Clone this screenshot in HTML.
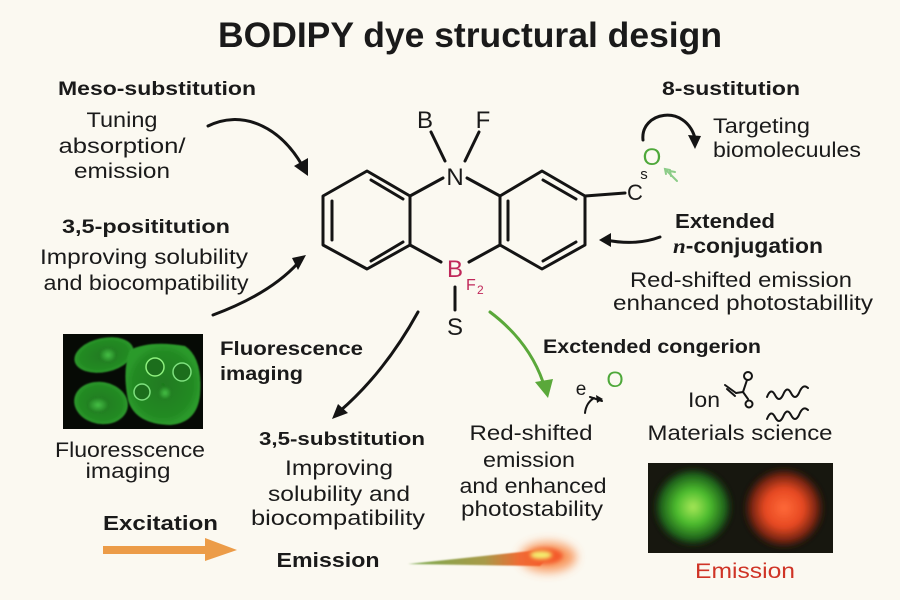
<!DOCTYPE html>
<html><head><meta charset="utf-8"><style>
html,body{margin:0;padding:0;background:#fbf9f1;}
svg{display:block;}
text{font-family:"Liberation Sans",sans-serif;fill:#1a1a1a;}
.b{font-weight:bold;}
</style></head><body>
<svg width="900" height="600" viewBox="0 0 900 600" xmlns="http://www.w3.org/2000/svg">
<defs>
<filter id="bl1" x="-50%" y="-50%" width="200%" height="200%"><feGaussianBlur stdDeviation="5"/></filter>
<filter id="bl2" x="-50%" y="-50%" width="200%" height="200%"><feGaussianBlur stdDeviation="2"/></filter>
<filter id="bl3" x="-50%" y="-50%" width="200%" height="200%"><feGaussianBlur stdDeviation="0.8"/></filter>
<radialGradient id="gg" cx="0.5" cy="0.5" r="0.5"><stop offset="0" stop-color="#a8e858"/><stop offset="0.4" stop-color="#4cbc2e"/><stop offset="0.78" stop-color="#1d5e1a"/><stop offset="1" stop-color="#17170f" stop-opacity="0"/></radialGradient>
<radialGradient id="rg" cx="0.5" cy="0.5" r="0.5"><stop offset="0" stop-color="#ff6a38"/><stop offset="0.45" stop-color="#e64822"/><stop offset="0.78" stop-color="#6e2210"/><stop offset="1" stop-color="#17170f" stop-opacity="0"/></radialGradient>
<linearGradient id="cm" x1="0" y1="0" x2="1" y2="0"><stop offset="0" stop-color="#7aaa50"/><stop offset="0.55" stop-color="#a89a48"/><stop offset="0.8" stop-color="#f06a34"/><stop offset="1" stop-color="#f46030"/></linearGradient>
<radialGradient id="cell" cx="0.5" cy="0.5" r="0.5"><stop offset="0" stop-color="#1f7a1f"/><stop offset="0.8" stop-color="#238a23"/><stop offset="1" stop-color="#2c9a2c"/></radialGradient>
<radialGradient id="nuc" cx="0.5" cy="0.5" r="0.5"><stop offset="0" stop-color="#45c045"/><stop offset="1" stop-color="#1f7a1f"/></radialGradient>
</defs>

<!-- Title -->
<text x="470" y="47" text-anchor="middle" class="b" font-size="35" textLength="504" lengthAdjust="spacingAndGlyphs">BODIPY dye structural design</text>

<!-- Left column -->
<text x="157" y="95" text-anchor="middle" class="b" font-size="19" textLength="198" lengthAdjust="spacingAndGlyphs">Meso-substitution</text>
<text x="122" y="127" text-anchor="middle" font-size="21" textLength="71" lengthAdjust="spacingAndGlyphs">Tuning</text>
<text x="122" y="153" text-anchor="middle" font-size="21" textLength="127" lengthAdjust="spacingAndGlyphs">absorption/</text>
<text x="122" y="178" text-anchor="middle" font-size="21" textLength="96" lengthAdjust="spacingAndGlyphs">emission</text>
<text x="146" y="233" text-anchor="middle" class="b" font-size="19" textLength="168" lengthAdjust="spacingAndGlyphs">3,5-posititution</text>
<text x="144" y="264" text-anchor="middle" font-size="21" textLength="208" lengthAdjust="spacingAndGlyphs">Improving solubility</text>
<text x="146" y="290" text-anchor="middle" font-size="21" textLength="205" lengthAdjust="spacingAndGlyphs">and biocompatibility</text>

<!-- arrows -->
<g fill="none" stroke="#141414" stroke-width="3" stroke-linecap="round">
<path d="M208,126 C240,110 278,124 302,165"/>
<path d="M213,315 C248,302 278,285 298,263"/>
<path d="M643,140 C640,112 685,103 695,138"/>
<path d="M660,237 Q636,246 606,240"/>
<path d="M418,312 Q385,372 340,411"/>
</g>
<g fill="#141414">
<polygon points="308,176 294,166 308,158"/>
<polygon points="306,255 298,270 292,258"/>
<polygon points="695,149 688,135 701,136"/>
<polygon points="599,240 611,233 611,247"/>
<polygon points="332,419 338,404 348,413"/>
</g>

<!-- Molecule -->
<g fill="none" stroke="#141414" stroke-width="3" stroke-linejoin="round" stroke-linecap="round">
<polygon points="367,171 410,196 410,245 367,269 323,245 323,196"/>
<line x1="332" y1="201" x2="332" y2="240"/>
<line x1="371" y1="180" x2="403" y2="199"/>
<line x1="371" y1="261" x2="403" y2="242"/>
<polygon points="542,171 585,196 585,245 542,269 500,245 500,196"/>
<line x1="508" y1="201" x2="508" y2="240"/>
<line x1="543" y1="180" x2="576" y2="199"/>
<line x1="543" y1="261" x2="576" y2="242"/>
<line x1="410" y1="196" x2="443" y2="178"/>
<line x1="467" y1="178" x2="500" y2="196"/>
<line x1="431" y1="132" x2="445" y2="161"/>
<line x1="479" y1="132" x2="465" y2="161"/>
<line x1="410" y1="245" x2="441" y2="262"/>
<line x1="500" y1="245" x2="469" y2="262"/>
<line x1="455" y1="287" x2="455" y2="310"/>
<line x1="585" y1="196" x2="625" y2="193"/>
</g>
<text x="425" y="128" text-anchor="middle" font-size="24">B</text>
<text x="483" y="128" text-anchor="middle" font-size="24">F</text>
<text x="455" y="185" text-anchor="middle" font-size="24">N</text>
<text x="455" y="277" text-anchor="middle" font-size="24" style="fill:#c0285a">B</text>
<text x="466" y="290" font-size="16" style="fill:#c0285a">F</text>
<text x="477" y="294" font-size="12" style="fill:#c0285a">2</text>
<text x="455" y="335" text-anchor="middle" font-size="24">S</text>
<text x="635" y="200" text-anchor="middle" font-size="22">C</text>
<text x="644" y="179" text-anchor="middle" font-size="15">s</text>
<text x="652" y="165" text-anchor="middle" font-size="24" style="fill:#4ea83a">O</text>
<g fill="none" stroke="#8ccc88" stroke-width="2" stroke-linecap="round">
<polyline points="666,174 665,169 670,170"/>
<polyline points="671,176 670,171 675,172"/>
<line x1="665" y1="169" x2="677" y2="181"/>
</g>

<!-- Right column -->
<text x="731" y="95" text-anchor="middle" class="b" font-size="19" textLength="138" lengthAdjust="spacingAndGlyphs">8-sustitution</text>
<text x="713" y="133" font-size="21" textLength="97" lengthAdjust="spacingAndGlyphs">Targeting</text>
<text x="713" y="157" font-size="21" textLength="148" lengthAdjust="spacingAndGlyphs">biomolecuules</text>
<text x="675" y="228" class="b" font-size="20" textLength="100" lengthAdjust="spacingAndGlyphs">Extended</text>
<text x="673" y="253" class="b" font-size="21" textLength="150" lengthAdjust="spacingAndGlyphs"><tspan style="font-family:'Liberation Serif',serif;font-style:italic;font-weight:bold">n</tspan><tspan>-conjugation</tspan></text>
<text x="741" y="287" text-anchor="middle" font-size="21" textLength="222" lengthAdjust="spacingAndGlyphs">Red-shifted emission</text>
<text x="743" y="310" text-anchor="middle" font-size="21" textLength="260" lengthAdjust="spacingAndGlyphs">enhanced photostabillity</text>

<!-- Microscopy image -->
<rect x="63" y="334" width="140" height="95" fill="#060a05"/>
<g>
<ellipse cx="104" cy="355" rx="30" ry="17" transform="rotate(-12 104 355)" fill="url(#cell)" filter="url(#bl3)"/>
<ellipse cx="108" cy="355" rx="9" ry="8" fill="url(#nuc)" filter="url(#bl3)"/>
<ellipse cx="101" cy="403" rx="27" ry="21" transform="rotate(10 101 403)" fill="url(#cell)" filter="url(#bl3)"/>
<ellipse cx="98" cy="405" rx="11" ry="8" fill="url(#nuc)" filter="url(#bl3)"/>
<path d="M130,350 Q150,340 185,346 Q203,358 200,395 Q197,423 170,425 Q135,424 128,400 Q122,370 130,350 Z" fill="url(#cell)" filter="url(#bl3)"/>
<circle cx="155" cy="367" r="9" fill="#1c6e1c" stroke="#8ef07e" stroke-width="1.5"/>
<circle cx="182" cy="372" r="9" fill="#1c6e1c" stroke="#7ee07e" stroke-width="1.5"/>
<circle cx="142" cy="392" r="8" fill="#1c6e1c" stroke="#7ee07e" stroke-width="1.5"/>
<circle cx="165" cy="393" r="7" fill="url(#nuc)" filter="url(#bl3)"/>
</g>
<text x="220" y="355" class="b" font-size="19" textLength="143" lengthAdjust="spacingAndGlyphs">Fluorescence</text>
<text x="220" y="380" class="b" font-size="19" textLength="83" lengthAdjust="spacingAndGlyphs">imaging</text>
<text x="130" y="457" text-anchor="middle" font-size="21" textLength="150" lengthAdjust="spacingAndGlyphs">Fluoresscence</text>
<text x="128" y="478" text-anchor="middle" font-size="21" textLength="85" lengthAdjust="spacingAndGlyphs">imaging</text>

<!-- middle bottom -->
<text x="342" y="445" text-anchor="middle" class="b" font-size="18" textLength="166" lengthAdjust="spacingAndGlyphs">3,5-substitution</text>
<text x="339" y="475" text-anchor="middle" font-size="21" textLength="108" lengthAdjust="spacingAndGlyphs">Improving</text>
<text x="339" y="501" text-anchor="middle" font-size="21" textLength="142" lengthAdjust="spacingAndGlyphs">solubility and</text>
<text x="338" y="525" text-anchor="middle" font-size="21" textLength="174" lengthAdjust="spacingAndGlyphs">biocompatibility</text>
<text x="103" y="530" class="b" font-size="20" textLength="115" lengthAdjust="spacingAndGlyphs">Excitation</text>
<rect x="103" y="546" width="106" height="8" fill="#ec9c48"/>
<polygon points="205,538 237,550 205,561" fill="#ec9c48"/>
<text x="328" y="567" text-anchor="middle" class="b" font-size="20" textLength="103" lengthAdjust="spacingAndGlyphs">Emission</text>

<!-- comet -->
<ellipse cx="548" cy="557" rx="28" ry="15" fill="#f88a4a" filter="url(#bl1)" opacity="0.85"/>
<polygon points="408,564 540,550 548,557 540,566" fill="url(#cm)" filter="url(#bl3)"/>
<ellipse cx="545" cy="556" rx="18" ry="8" fill="#f45a2a" filter="url(#bl2)"/>
<ellipse cx="541" cy="555" rx="11" ry="4" fill="#f4f070" filter="url(#bl2)"/>

<!-- green arrow -->
<path d="M490,312 Q530,342 544,385" fill="none" stroke="#5aa83a" stroke-width="3" stroke-linecap="round"/>
<polygon points="548,398 535,382 553,379" fill="#5aa83a"/>

<!-- right bottom -->
<text x="543" y="353" class="b" font-size="19" textLength="218" lengthAdjust="spacingAndGlyphs">Exctended congerion</text>
<text x="581" y="395" text-anchor="middle" font-size="19">e</text>
<text x="615" y="387" text-anchor="middle" font-size="22" style="fill:#4ea83a">O</text>
<g fill="none" stroke="#141414" stroke-width="2" stroke-linecap="round">
<path d="M585,413 Q586,403 594,398"/>
<line x1="590" y1="397" x2="602" y2="401"/>
</g>
<polygon points="596,395 603,399 597,403" fill="#141414"/>
<text x="688" y="407" font-size="21" textLength="32" lengthAdjust="spacingAndGlyphs">Ion</text>
<g fill="none" stroke="#141414" stroke-width="2" stroke-linecap="round">
<line x1="725" y1="385" x2="736" y2="393"/>
<line x1="727" y1="389" x2="735" y2="396"/>
<line x1="736" y1="393" x2="743" y2="392"/>
<line x1="743" y1="392" x2="747" y2="380"/>
<line x1="743" y1="392" x2="748" y2="399"/>
<circle cx="748" cy="376" r="4"/>
<circle cx="749" cy="404" r="3.5"/>
<path d="M767,397 q4,-10 8,-2 q4,8 8,0 q4,-10 8,-2 q4,8 8,0 q4,-10 9,-5"/>
<path d="M767,419 q4,-10 8,-2 q4,8 8,0 q4,-10 8,-2 q4,8 8,0 q4,-10 9,-5"/>
</g>
<text x="740" y="440" text-anchor="middle" font-size="21" textLength="185" lengthAdjust="spacingAndGlyphs">Materials science</text>
<text x="531" y="440" text-anchor="middle" font-size="21" textLength="123" lengthAdjust="spacingAndGlyphs">Red-shifted</text>
<text x="529" y="467" text-anchor="middle" font-size="21" textLength="92" lengthAdjust="spacingAndGlyphs">emission</text>
<text x="533" y="493" text-anchor="middle" font-size="21" textLength="147" lengthAdjust="spacingAndGlyphs">and enhanced</text>
<text x="532" y="516" text-anchor="middle" font-size="21" textLength="142" lengthAdjust="spacingAndGlyphs">photostability</text>

<!-- emission panel -->
<rect x="648" y="463" width="185" height="90" fill="#17170f"/>
<circle cx="693" cy="507" r="42" fill="url(#gg)" filter="url(#bl2)"/>
<circle cx="784" cy="508" r="43" fill="url(#rg)" filter="url(#bl2)"/>
<text x="745" y="578" text-anchor="middle" font-size="21" textLength="100" lengthAdjust="spacingAndGlyphs" style="fill:#cf3426">Emission</text>
</svg>
</body></html>
